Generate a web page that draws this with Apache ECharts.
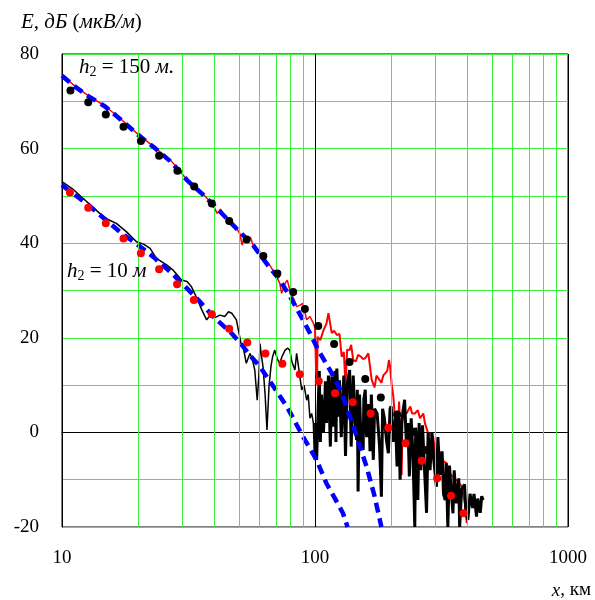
<!DOCTYPE html>
<html>
<head>
<meta charset="utf-8">
<script src="https://cdn.jsdelivr.net/npm/echarts@6/dist/echarts.min.js"></script>
<style>
  html, body { margin: 0; padding: 0; background: #fff; }
  #chart { width: 595px; height: 600px; }
</style>
</head>
<body>
<div id="chart"></div>
<script>
// distance, km -> field strength, dB(uV/m)
var xTicks = [10, 100, 1000];
var yTicks = [-20, 0, 20, 40, 60, 80];
var minorX = [20, 30, 40, 50, 60, 70, 80, 90, 200, 300, 400, 500, 600, 700, 800, 900];

// h2 = 150 m, measured (red line)
var red150 = [[10,75.5],[11.25,73.2],[12.7,71.2],[14.8,69],[17.2,66.1],[20,63],[23.3,60.2],[27.1,57.3],[31.1,53.5],[36.2,50.3],[39.5,48.2],[41,46.3],[42.3,47.2],[44,45.8],[48.9,43.2],[50.5,42],[51.5,39.6],[52.7,41.5],[54,40.2],[55.5,41.3],[57,39.5],[62,37.2],[66.3,35.3],[70,33.3],[72.6,31.5],[73.8,29.4],[76.2,31.5],[77.7,32.2],[79.5,30.1],[82,28.5],[84.6,26.6],[87.3,26.9],[89.5,27.3],[92.7,23.8],[95.5,24.5],[98.5,23.1],[100,22],[101,13],[101.8,11],[102.5,20.2],[105,19.5],[108,21.6],[111,23],[113,25.2],[115,25.5],[116.5,21],[119,21.5],[122,20.6],[125,20.8],[127.5,16],[130,17],[132,10],[134,17.5],[137,17.4],[139,18.5],[141.6,15.3],[145,15],[148,16.4],[152,16],[155,15.5],[158,15.7],[162.5,16.7],[164,15],[167.5,11.1],[172,9.5],[175,12],[178,11.8],[183,10.5],[186,12],[189,11.8],[193,13],[196,15.3],[198,14],[201,10],[204,7.6],[208,1.5],[212,-1.6],[215,6.5],[217,6.2],[220,-9],[222,5],[230,4],[238,5.5],[242,4],[248,4],[255,4.7],[260,3],[268,4],[272,1.9],[280,-0.2],[287,-0.5],[293,-0.9],[300,-5],[310,-4],[320,-6],[331,-6.5],[340,-8.6],[352,-9.5],[363,-10.1],[375,-11],[381,-11.5],[391,-15],[398,-19.2]];

// h2 = 10 m, measured (black line)
var black10 = [[10,53],[11,51.5],[12.1,49.5],[13,48],[14.1,46.3],[15.2,45],[16.4,44.2],[18,42.4],[19.7,40.3],[21,39.8],[22.3,38.9],[23.6,36.8],[25.9,35.4],[27.5,34.3],[29.7,32.2],[31.2,31.9],[32.5,30.8],[34.1,28.4],[35.7,25.9],[37.3,23.8],[38.5,24.7],[40,24.2],[42.1,24.8],[44,24.5],[45.5,25.5],[46.9,25.2],[48.9,23.8],[51,18.8],[52,18.1],[53.5,14.6],[55.3,16.7],[56.5,15.5],[57.8,13.2],[59.1,6.8],[60,12],[60.6,18.8],[61.5,16],[62.3,13.9],[63.5,8],[64.6,0.5],[65.8,9.7],[67,14],[68,16],[69.3,17.4],[71,15.5],[72.6,14.6],[74,16],[76.2,17.4],[78,17.8],[79.5,17.4],[81,15],[83.3,13.2],[84.6,16.7],[86,14],[88.6,9],[90.5,10],[92.7,6.8],[94,8],[95.5,3],[97,4],[98.5,2],[99.5,-5.8],[100.5,2],[101.5,-5.8],[103,6],[104,13],[105,-2],[106,8],[108,0],[110,10.8],[111,2],[113,12],[115,-3],[116.5,11.8],[118,1.2],[120,13],[121,-2],[122,13.5],[124,3.3],[125,11],[127,-1],[130,12],[132,-5],[134,10],[137,13.2],[139,-3],[141.6,12],[144,2],[146,-1.6],[147,9],[148,-12.5],[150,8],[152,-2],[155,-3.7],[156,7],[158,9],[160,-1],[163,6],[165,-4],[167,8],[170,-5.8],[172,5],[176,4],[180,-3],[183,-13.6],[185,5],[188,3],[192,-2],[195,-4.4],[198,5],[200,5.5],[204,-2],[208,3],[211,-7.2],[214,4],[217,-10],[220,2],[226,6.9],[230,-3],[233,2],[236,-9.3],[240,3],[244,-5],[248,-20],[250,1],[255,-14.3],[258,2],[262,-8],[266,1.5],[270,-6],[276,-17],[280,0],[285,-8],[290,0],[295,-6],[302,-11.5],[306,-1],[312,-9],[318,-4],[322,-13],[327,-14.3],[330,-6.5],[335,-20],[340,-7],[345,-12],[351,-17.1],[355,-8],[362,-15],[370,-9.7],[373,-20],[380,-12],[390,-11],[395,-17],[402,-18.5],[410,-13],[420,-16],[425,-13],[435,-17.8],[440,-14],[450,-17],[456,-13.5],[462,-14.3]];

// calculated curves (blue dashed)
var blue150 = [[10,75.4],[11.25,73.1],[12.7,71.1],[14.8,68.9],[17.2,66],[20,62.9],[23.3,60.1],[27.1,57.1],[31.1,53.4],[36.2,50.2],[42.1,46.7],[48.9,43.1],[56.9,39.6],[65.4,35.2],[72.6,32.2],[79.5,28.8],[87.1,25],[95.5,21],[103,17.4],[114,13.4],[126,9],[142,1.2],[160,-7.3],[172,-13.5],[183,-20]];
var blue10 = [[10,52.3],[10.6,51.2],[12.5,48.4],[14.6,45.3],[17.2,42.1],[20,39.6],[23.3,36.8],[26.7,34],[30.2,31.2],[34.6,28],[39.6,24.5],[46.9,20.9],[52.1,18.1],[55.3,16.3],[60.6,13.9],[68.5,9.7],[77.5,5.4],[89.7,-0.9],[101.4,-5.8],[111,-10.8],[120,-14],[129,-17.1],[134.5,-20]];

// reference points (dots)
var dots150 = [[10.8,72.3],[12.7,69.8],[14.9,67.2],[17.5,64.6],[20.5,61.6],[24.2,58.5],[28.6,55.3],[33.3,52],[39.1,48.4],[45.8,44.7],[53.7,40.8],[62.5,37.3],[71,33.6],[82,29.7],[91.2,26.1],[103,22.5],[119,18.7],[137,14.9],[158,11.3],[182,7.4],[211,3.8],[245,0.15],[276,-3.7]];
var dots10 = [[10.75,50.7],[12.7,47.5],[14.9,44.2],[17.5,41],[20.5,37.9],[24.2,34.5],[28.5,31.3],[33.2,28],[39.1,25],[45.8,21.9],[54,19],[63.7,16.7],[74.3,14.5],[87.1,12.3],[103.5,10.8],[120,8.3],[141,6.4],[166,4],[195,1],[228,-2.3],[264,-6],[304,-9.7],[345,-13.4],[386,-17.1]];

function splitAt(arr, x) {
  var i = 0;
  while (i < arr.length && arr[i][0] < x) i++;
  return [arr.slice(0, i + 1), arr.slice(i)];
}

var red150Parts = splitAt(red150, 100);
var black10Parts = splitAt(black10, 100);

var serif = "'Liberation Serif', 'Times New Roman', serif";
var green = '#3cf03c';

var chart = echarts.init(document.getElementById('chart'));

function lineSeries(data, color, width, z, dash) {
  return {
    type: 'line',
    data: data,
    showSymbol: false,
    symbol: 'none',
    silent: true,
    z: z,
    lineStyle: { color: color, width: width, type: dash || 'solid' }
  };
}

function dotSeries(data, color) {
  return {
    type: 'scatter',
    data: data,
    symbol: 'circle',
    symbolSize: 8,
    silent: true,
    z: 6,
    itemStyle: { color: color, opacity: 1 }
  };
}

var option = {
  animation: false,
  backgroundColor: '#fff',
  title: {
    text: '{i|E, дБ }{n|(}{i|мкВ/м}{n|)}',
    left: 16,
    top: 7,
    textStyle: {
      fontWeight: 'normal',
      rich: {
        i: { fontFamily: serif, fontStyle: 'italic', fontWeight: 'normal', fontSize: 21, color: '#000' },
        n: { fontFamily: serif, fontWeight: 'normal', fontSize: 21, color: '#000' }
      }
    }
  },
  grid: {
    left: 62, right: 27, top: 54, bottom: 73,
    show: true,
    borderColor: '#000',
    borderWidth: 1,
    backgroundColor: '#fff'
  },
  xAxis: {
    type: 'log',
    logBase: 10,
    min: xTicks[0],
    max: xTicks[xTicks.length - 1],
    axisLine: { show: true, lineStyle: { color: '#000', width: 1 } },
    axisTick: { show: false },
    axisLabel: {
      fontFamily: serif, fontSize: 19, color: '#000', margin: 22,
      formatter: function (v) { return xTicks.indexOf(v) >= 0 ? String(v) : ''; }
    },
    splitLine: { show: true, lineStyle: { color: '#000', width: 1 } }
  },
  yAxis: {
    type: 'value',
    min: yTicks[0],
    max: yTicks[yTicks.length - 1],
    interval: 20,
    axisLine: { show: true, lineStyle: { color: '#000', width: 1 } },
    axisTick: { show: false },
    minorTick: { show: false, splitNumber: 2 },
    axisLabel: { fontFamily: serif, fontSize: 19, color: '#000', margin: 23 },
    splitLine: { show: true, lineStyle: { color: green, width: 1 } },
    minorSplitLine: { show: true, lineStyle: { color: green, width: 1 } }
  },
  graphic: [
    {
      type: 'text', left: 79, top: 57, z: 10,
      style: {
        text: '{i|h}{s|2}{n| = 150 }{i|м.}',
        rich: {
          i: { fontFamily: serif, fontStyle: 'italic', fontSize: 21, lineHeight: 24, fill: '#000' },
          n: { fontFamily: serif, fontSize: 21, lineHeight: 24, fill: '#000' },
          s: { fontFamily: serif, fontSize: 14, lineHeight: 10, verticalAlign: 'bottom', fill: '#000' }
        }
      }
    },
    {
      type: 'text', left: 67, top: 261, z: 10,
      style: {
        text: '{i|h}{s|2}{n| = 10 }{i|м}',
        rich: {
          i: { fontFamily: serif, fontStyle: 'italic', fontSize: 21, lineHeight: 24, fill: '#000' },
          n: { fontFamily: serif, fontSize: 21, lineHeight: 24, fill: '#000' },
          s: { fontFamily: serif, fontSize: 14, lineHeight: 10, verticalAlign: 'bottom', fill: '#000' }
        }
      }
    },
    {
      type: 'text', right: 4, top: 581,
      style: {
        text: '{i|x}{n|, км}',
        rich: {
          i: { fontFamily: serif, fontStyle: 'italic', fontSize: 19, fill: '#000' },
          n: { fontFamily: serif, fontSize: 19, fill: '#000' }
        }
      }
    }
  ],
  series: [
    {
      type: 'line',
      data: [],
      silent: true,
      z: 1,
      markLine: {
        silent: true,
        symbol: ['none', 'none'],
        label: { show: false },
        lineStyle: { color: green, width: 1, type: 'solid' },
        data: minorX.map(function (v) { return { xAxis: v }; })
      }
    },
    lineSeries(red150Parts[0], '#ff0000', 1.5, 2),
    lineSeries(red150Parts[1], '#ff0000', 2, 2),
    lineSeries(black10Parts[0], '#000000', 1.5, 3),
    lineSeries(black10Parts[1], '#000000', 3, 3),
    lineSeries(blue150, '#0000ff', 4.5, 4, [10, 6]),
    lineSeries(blue10, '#0000ff', 4.5, 4, [10, 6]),
    dotSeries(dots150, '#000000'),
    dotSeries(dots10, '#ff0000')
  ]
};

chart.setOption(option);
</script>
</body>
</html>
